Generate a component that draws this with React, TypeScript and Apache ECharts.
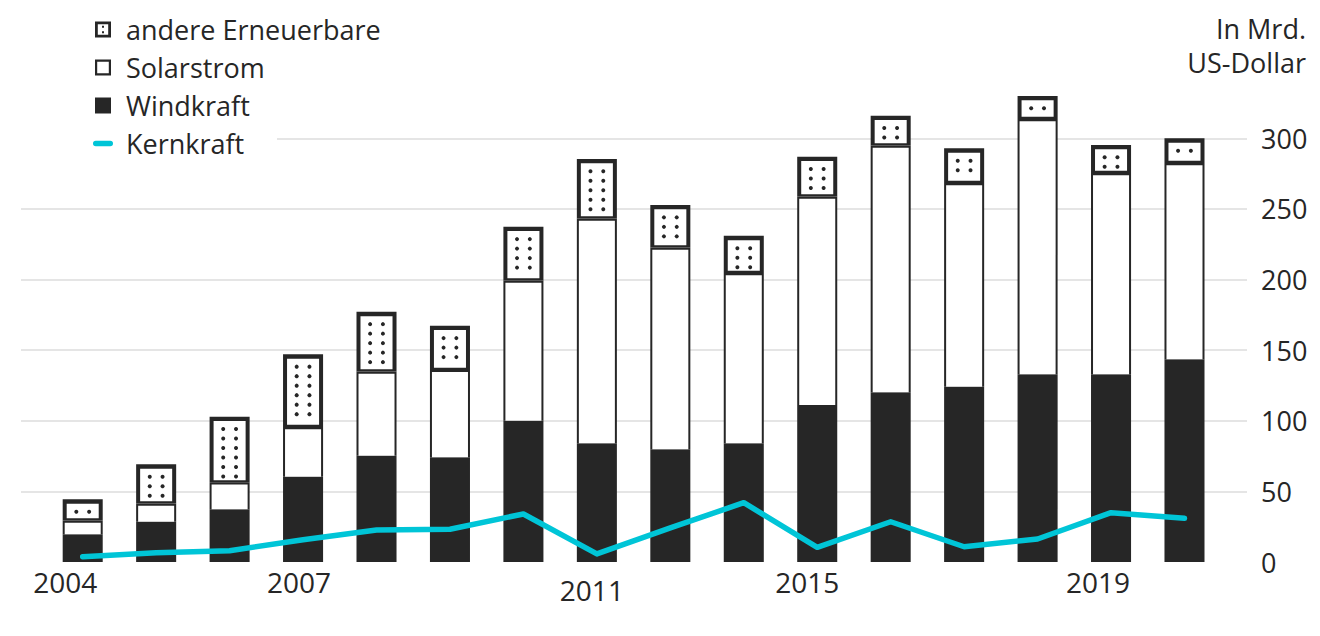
import React, { useEffect, useRef } from "react";
import * as echarts from "echarts";

// Bars are evenly spaced positions 0..15
const barIndex = [0, 1, 2, 3, 4, 5, 6, 7, 8, 9, 10, 11, 12, 13, 14, 15];
const windValues = [19.6, 28.5, 37.3, 60.4, 75.3, 74.1, 100.1, 84.0, 79.8, 84.0, 111.2, 120.2, 124.1, 132.9, 132.9, 143.5];
const solarValues = [9.8, 12.9, 19.1, 35.2, 59.6, 61.9, 99.2, 159.2, 142.9, 120.6, 147.6, 174.7, 144.3, 180.8, 142.5, 139.0];
const otherValues = [15.0, 27.8, 46.5, 51.5, 42.3, 31.3, 38.1, 42.2, 30.1, 26.4, 28.2, 21.1, 24.5, 16.3, 19.9, 17.5];
const nuclearValues = [3.8, 6.6, 8.0, 15.8, 22.7, 23.2, 34.0, 5.7, 24.1, 42.0, 10.4, 28.5, 10.8, 16.3, 34.9, 30.9];

const xTickIndex = [0, 3, 7, 10, 14];
const xTickLabels = ["2004", "2007", "2011", "2015", "2019"];
const yMin = 0;
const yMax = 300;
const yStep = 50;

const seriesNames = ["andere Erneuerbare", "Solarstrom", "Windkraft", "Kernkraft"];
const unitLabel = "In Mrd.\nUS-Dollar";

const INK = "#262626";
const CYAN = "#00c5d7";
const FONT = "'Open Sans', 'Noto Sans', sans-serif";
const FS = 27;
const FS_X = 28;

const ICON_OTHER =
  "path://M0,0 L16,0 L16,16 L0,16 Z M2.8,2.8 L2.8,13.2 L13.2,13.2 L13.2,2.8 Z M7,4.3 L9,4.3 L9,6.3 L7,6.3 Z M7,9.7 L9,9.7 L9,11.7 L7,11.7 Z";
const ICON_SOLAR = "path://M0,0 L16,0 L16,16 L0,16 Z M2.2,2.2 L2.2,13.8 L13.8,13.8 L13.8,2.2 Z";
const ICON_WIND = "path://M0,0 L16,0 L16,16 L0,16 Z";
const ICON_LINE = "path://M2.75,0 L17.25,0 A2.75,2.75 0 0 1 17.25,5.5 L2.75,5.5 A2.75,2.75 0 0 1 2.75,0 Z";

function segBox(api: any) {
  const x = api.value(0);
  const p0 = api.coord([x, api.value(1)]);
  const p1 = api.coord([x, api.value(2)]);
  const w = api.size([1, 0])[0] * 0.545;
  return { left: p0[0] - w / 2, w, top: p1[1], bottom: p0[1] };
}

function renderWind(_p: any, api: any) {
  const b = segBox(api);
  return {
    type: "rect",
    shape: { x: b.left, y: b.top, width: b.w, height: b.bottom - b.top },
    style: { fill: INK },
  };
}

function renderSolar(_p: any, api: any) {
  const b = segBox(api);
  const h = b.bottom - b.top;
  return {
    type: "group",
    children: [
      { type: "rect", shape: { x: b.left, y: b.top, width: b.w, height: h }, style: { fill: INK } },
      {
        type: "rect",
        shape: { x: b.left + 2, y: b.top + 2.2, width: b.w - 4, height: Math.max(0, h - 2.2) },
        style: { fill: "#fff" },
      },
    ],
  };
}

function renderOther(_p: any, api: any) {
  const b = segBox(api);
  const h = b.bottom - b.top;
  const inTop = b.top + 4.4;
  const inBottom = b.bottom - 2.2;
  const children: any[] = [
    { type: "rect", shape: { x: b.left, y: b.top, width: b.w, height: h }, style: { fill: INK } },
    {
      type: "rect",
      shape: { x: b.left + 4, y: inTop, width: b.w - 8, height: Math.max(0, inBottom - inTop) },
      style: { fill: "#fff" },
    },
  ];
  const cx = b.left + b.w / 2;
  for (let y = inTop + 8; y <= inBottom - 2; y += 9.5) {
    children.push({ type: "circle", shape: { cx: cx - 6.4, cy: y, r: 2 }, style: { fill: INK } });
    children.push({ type: "circle", shape: { cx: cx + 6.4, cy: y, r: 2 }, style: { fill: INK } });
  }
  return { type: "group", children };
}

export default function App() {
  const ref = useRef<HTMLDivElement>(null);
  useEffect(() => {
    document.body.style.margin = "0";
    if (!ref.current) return;
    const chart = echarts.init(ref.current, null, { renderer: "svg" });

    const windData = barIndex.map((i) => [i, 0, windValues[i]]);
    const solarData = barIndex.map((i) => [i, windValues[i], windValues[i] + solarValues[i]]);
    const otherData = barIndex.map((i) => {
      const base = windValues[i] + solarValues[i];
      return [i, base, base + otherValues[i]];
    });
    const lineData = barIndex.map((i) => [i, nuclearValues[i]]);

    const labelPad: any = {
      t0: [0, 35, 0, 0],
      t1: [0, 8, 0, 0],
      t2: [8, 10, 0, 0],
      t3: [0, 20, 0, 0],
      t4: [0, 26, 0, 0],
    };
    const rich: any = {};
    Object.keys(labelPad).forEach((k) => {
      rich[k] = { fontSize: FS_X, color: INK, fontFamily: FONT, padding: labelPad[k] };
    });

    chart.setOption({
      animation: false,
      grid: { left: 21, right: 73, top: 138.3, bottom: 74 },
      xAxis: {
        type: "value",
        min: -0.84,
        max: 15.851,
        axisLine: { show: false },
        axisTick: { show: false },
        splitLine: { show: false },
        axisLabel: {
          customValues: xTickIndex,
          margin: 6,
          fontSize: FS_X,
          color: INK,
          fontFamily: FONT,
          formatter: (v: number) => {
            const k = xTickIndex.indexOf(Math.round(v));
            return k < 0 ? "" : `{t${k}|${xTickLabels[k]}}`;
          },
          rich,
        },
      },
      yAxis: {
        type: "value",
        position: "right",
        min: yMin,
        max: yMax,
        interval: yStep,
        axisLine: { show: false },
        axisTick: { show: false },
        splitLine: { show: true, showMinLine: false, lineStyle: { color: "#dcdcdc", width: 1.5 } },
        axisLabel: { margin: 14, fontSize: FS, color: INK, fontFamily: FONT },
      },
      legend: {
        orient: "vertical",
        left: 83,
        top: 12,
        padding: [4, 10, 4, 10],
        itemWidth: 20,
        itemHeight: 16,
        itemGap: 11,
        z: 10,
        selectedMode: false,
        textStyle: { fontSize: FS, color: INK, fontFamily: FONT, lineHeight: 27, padding: [0, 0, 0, 8] },
        data: [
          { name: seriesNames[0], icon: ICON_OTHER, itemStyle: { color: INK, borderWidth: 0 } },
          { name: seriesNames[1], icon: ICON_SOLAR, itemStyle: { color: INK, borderWidth: 0 } },
          { name: seriesNames[2], icon: ICON_WIND, itemStyle: { color: INK, borderWidth: 0 } },
          { name: seriesNames[3], icon: ICON_LINE, itemStyle: { color: CYAN, borderWidth: 0 } },
        ],
      },
      graphic: [
        {
          type: "rect",
          z: 3,
          shape: { x: 15, y: 128, width: 262, height: 24 },
          style: { fill: "#fff" },
        },
        {
          type: "text",
          x: 1306,
          y: 11,
          z: 10,
          style: {
            text: unitLabel,
            align: "right",
            verticalAlign: "top",
            fontSize: FS,
            lineHeight: 34,
            fill: INK,
            fontFamily: FONT,
          },
        },
      ],
      series: [
        {
          name: seriesNames[2],
          type: "custom",
          coordinateSystem: "cartesian2d",
          clip: false,
          itemStyle: { color: INK },
          encode: { x: 0, y: [1, 2] },
          renderItem: renderWind,
          data: windData,
          z: 4,
        },
        {
          name: seriesNames[1],
          type: "custom",
          coordinateSystem: "cartesian2d",
          clip: false,
          itemStyle: { color: INK },
          encode: { x: 0, y: [1, 2] },
          renderItem: renderSolar,
          data: solarData,
          z: 4,
        },
        {
          name: seriesNames[0],
          type: "custom",
          coordinateSystem: "cartesian2d",
          clip: false,
          itemStyle: { color: INK },
          encode: { x: 0, y: [1, 2] },
          renderItem: renderOther,
          data: otherData,
          z: 4,
        },
        {
          name: seriesNames[3],
          type: "line",
          data: lineData,
          symbol: "none",
          color: CYAN,
          lineStyle: { color: CYAN, width: 5.5, cap: "round", join: "round" },
          z: 6,
        },
      ],
    });
    return () => chart.dispose();
  }, []);
  return <div ref={ref} style={{ width: 1320, height: 636 }} />;
}
